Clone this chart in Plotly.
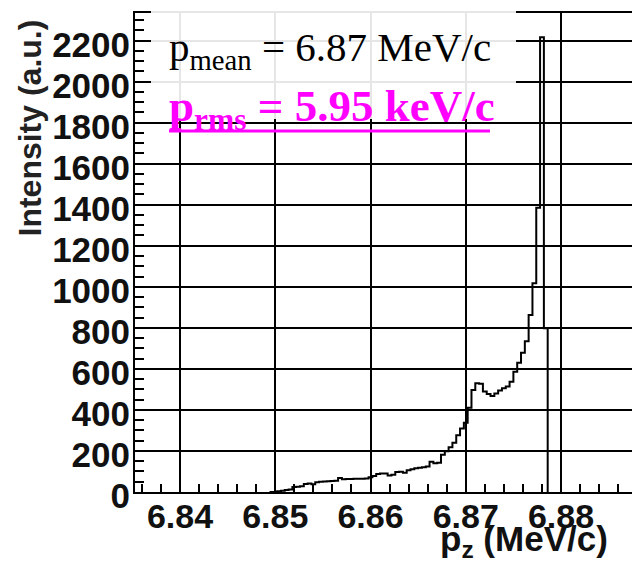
import numpy as np
import plotly.graph_objects as go

# Longitudinal momentum spectrum, fixed-width bins starting at BIN_LO (MeV/c)
BIN_LO = 6.8494
BIN_WIDTH = 0.0004
counts = [
    0, 0, 4, 6, 10, 12, 24, 26, 28, 39,
    42, 38, 48, 50, 51, 52, 53, 55, 68, 62,
    63, 63, 64, 65, 65, 66, 72, 78, 88, 90,
    90, 80, 84, 98, 99, 94, 106, 111, 116, 118,
    121, 124, 147, 140, 143, 182, 198, 218, 240, 276,
    310, 338, 410, 497, 530, 528, 490, 478, 468, 480,
    494, 505, 514, 537, 586, 630, 678, 735, 862, 1017,
    1385, 2216, 798,
]

x_ticks = [6.84, 6.85, 6.86, 6.87, 6.88]
x_tick_text = ["6.84", "6.85", "6.86", "6.87", "6.88"]

mean_label = "p<sub>mean</sub> = 6.87 MeV/c"
rms_label = "<b>p<sub>rms</sub> = 5.95 keV/c</b>"
x_title = "<b>p<sub>z</sub> (MeV/c)</b>"
y_title = "<b>Intensity (a.u.)</b>"

# step outline of the histogram: rise at the first edge, drop at the last
edges = BIN_LO + BIN_WIDTH * np.arange(len(counts) + 1)
xs = [edges[0]] + list(edges[:-1]) + [edges[-1]]
ys = [0] + counts + [0]

fig = go.Figure(
    go.Scatter(
        x=xs, y=ys, mode="lines",
        line=dict(shape="hv", color="black", width=2),
        hoverinfo="skip", showlegend=False,
    )
)

# plot-area pixel frame used for placing the overlay items
L, R, T, B = 135, 632, 13, 492
def px(xp):
    return (xp - L) / (R - L)
def py(yp):
    return (B - yp) / (B - T)

x_tick_font = dict(family="Liberation Sans", size=34, color="#111111", weight="bold")
y_tick_font = dict(family="Liberation Sans", size=35, color="#111111", weight="bold")

fig.update_layout(
    width=632, height=565,
    margin=dict(l=L, r=632 - R, t=T, b=565 - B),
    paper_bgcolor="white", plot_bgcolor="white",
    xaxis=dict(
        range=[6.83528, 6.88745],
        tickvals=x_ticks, ticktext=x_tick_text,
        ticks="inside", ticklen=15, tickwidth=2, tickcolor="black",
        minor=dict(dtick=0.002, tick0=6.84, ticks="inside", ticklen=8,
                   tickwidth=2, tickcolor="black", showgrid=False),
        showgrid=True, gridcolor="black", gridwidth=2,
        showline=True, linecolor="black", linewidth=2, mirror=True,
        zeroline=False, tickfont=x_tick_font, ticklabelstandoff=-7,
    ),
    yaxis=dict(
        range=[0, 2334], tick0=0, dtick=200,
        ticks="inside", ticklen=15, tickwidth=2, tickcolor="black",
        minor=dict(dtick=50, tick0=0, ticks="inside", ticklen=9,
                   tickwidth=2, tickcolor="black", showgrid=False),
        showgrid=True, gridcolor="black", gridwidth=2,
        showline=True, linecolor="black", linewidth=2, mirror=False,
        zeroline=False, tickfont=y_tick_font, ticklabelstandoff=-4,
        ticklabelshift=4,
    ),
    shapes=[
        # statistics box, slightly translucent over the grid
        dict(type="rect", xref="paper", yref="paper", layer="above",
             x0=px(151), x1=px(516), y0=py(119), y1=py(10),
             fillcolor="white", opacity=0.9, line=dict(width=0)),
        # underline of the rms value
        dict(type="line", xref="paper", yref="paper", layer="above",
             x0=px(169), x1=px(490), y0=py(131), y1=py(131),
             line=dict(color="#ff00ff", width=3)),
    ],
    annotations=[
        dict(text=mean_label, xref="paper", yref="paper",
             x=px(167), y=py(50), xanchor="left", yanchor="middle",
             showarrow=False,
             font=dict(family="Liberation Serif", size=41, color="black")),
        dict(text=rms_label, xref="paper", yref="paper",
             x=px(167), y=py(109), xanchor="left", yanchor="middle",
             showarrow=False,
             font=dict(family="Liberation Serif", size=45, color="#ff00ff")),
        dict(text=x_title, xref="paper", yref="paper",
             x=px(610), y=py(565), xanchor="right", yanchor="bottom",
             showarrow=False,
             font=dict(family="Liberation Sans", size=35, color="#111111")),
        dict(text=y_title, xref="paper", yref="paper", textangle=-90,
             x=px(29), y=py(18), xanchor="center", yanchor="top",
             showarrow=False,
             font=dict(family="Liberation Sans", size=32, color="#222222")),
    ],
)

fig.write_html("out.html")
